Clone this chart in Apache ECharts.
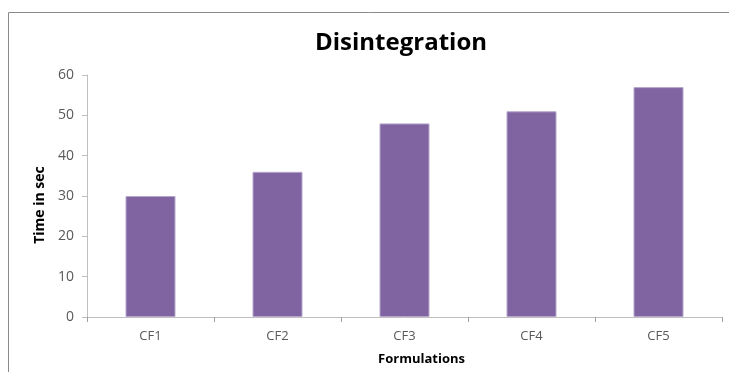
<!DOCTYPE html>
<html>
<head>
<meta charset="utf-8">
<script src="https://cdn.jsdelivr.net/npm/echarts@6/dist/echarts.min.js"></script>
<style>
  html, body { margin: 0; padding: 0; background: #fff; }
  #chart { width: 729px; height: 372px; }
</style>
</head>
<body>
<div id="chart"></div>
<script>
// Disintegration time per formulation
const categories = ['CF1', 'CF2', 'CF3', 'CF4', 'CF5'];
const timeValues = [30, 36, 48, 51, 57];
const yTicks = { min: 0, max: 60, interval: 10 };

const font = 'Open Sans, "Liberation Sans", sans-serif';
const chart = echarts.init(document.getElementById('chart'), null, { renderer: 'canvas' });

chart.setOption({
  animation: false,
  backgroundColor: '#ffffff',
  graphic: [{
    type: 'rect',
    shape: { x: 8.5, y: 12.5, width: 900, height: 500 },
    style: { fill: 'none', stroke: '#8a8a8a', lineWidth: 1 },
    silent: true
  }],
  title: {
    text: 'Disintegration',
    left: 315,
    top: 31,
    padding: 0,
    textStyle: { fontFamily: font, fontWeight: 'bold', fontSize: 24, color: '#000' }
  },
  grid: { left: 87, right: 7, top: 75, bottom: 55, containLabel: false },
  xAxis: {
    type: 'category',
    data: categories,
    name: 'Formulations',
    nameLocation: 'middle',
    nameGap: 36,
    nameTextStyle: {
      fontFamily: font, fontWeight: 'bold', fontSize: 13, color: '#000',
      padding: [0, 0, 0, 34]
    },
    axisLine: { lineStyle: { color: '#bfbfbf', width: 1 } },
    axisTick: { show: true, length: 5, lineStyle: { color: '#a0a0a0' }, alignWithLabel: false },
    axisLabel: { fontFamily: font, fontSize: 13, color: '#595959', margin: 13 }
  },
  yAxis: {
    type: 'value',
    min: yTicks.min,
    max: yTicks.max,
    interval: yTicks.interval,
    name: 'Time in sec',
    nameLocation: 'middle',
    nameGap: 33,
    nameRotate: 90,
    nameTextStyle: {
      fontFamily: font, fontWeight: 'bold', fontSize: 14, color: '#000',
      padding: [0, 18, 0, 0]
    },
    axisLine: { show: true, lineStyle: { color: '#bfbfbf', width: 1 } },
    axisTick: { show: true, length: 5, lineStyle: { color: '#bfbfbf' } },
    axisLabel: { fontFamily: font, fontSize: 14, color: '#595959', margin: 13 },
    splitLine: { show: false }
  },
  series: [{
    type: 'bar',
    data: timeValues,
    barWidth: 50,
    itemStyle: { color: '#8064a2', borderColor: '#b7a6cc', borderWidth: 1 }
  }]
});
</script>
</body>
</html>
